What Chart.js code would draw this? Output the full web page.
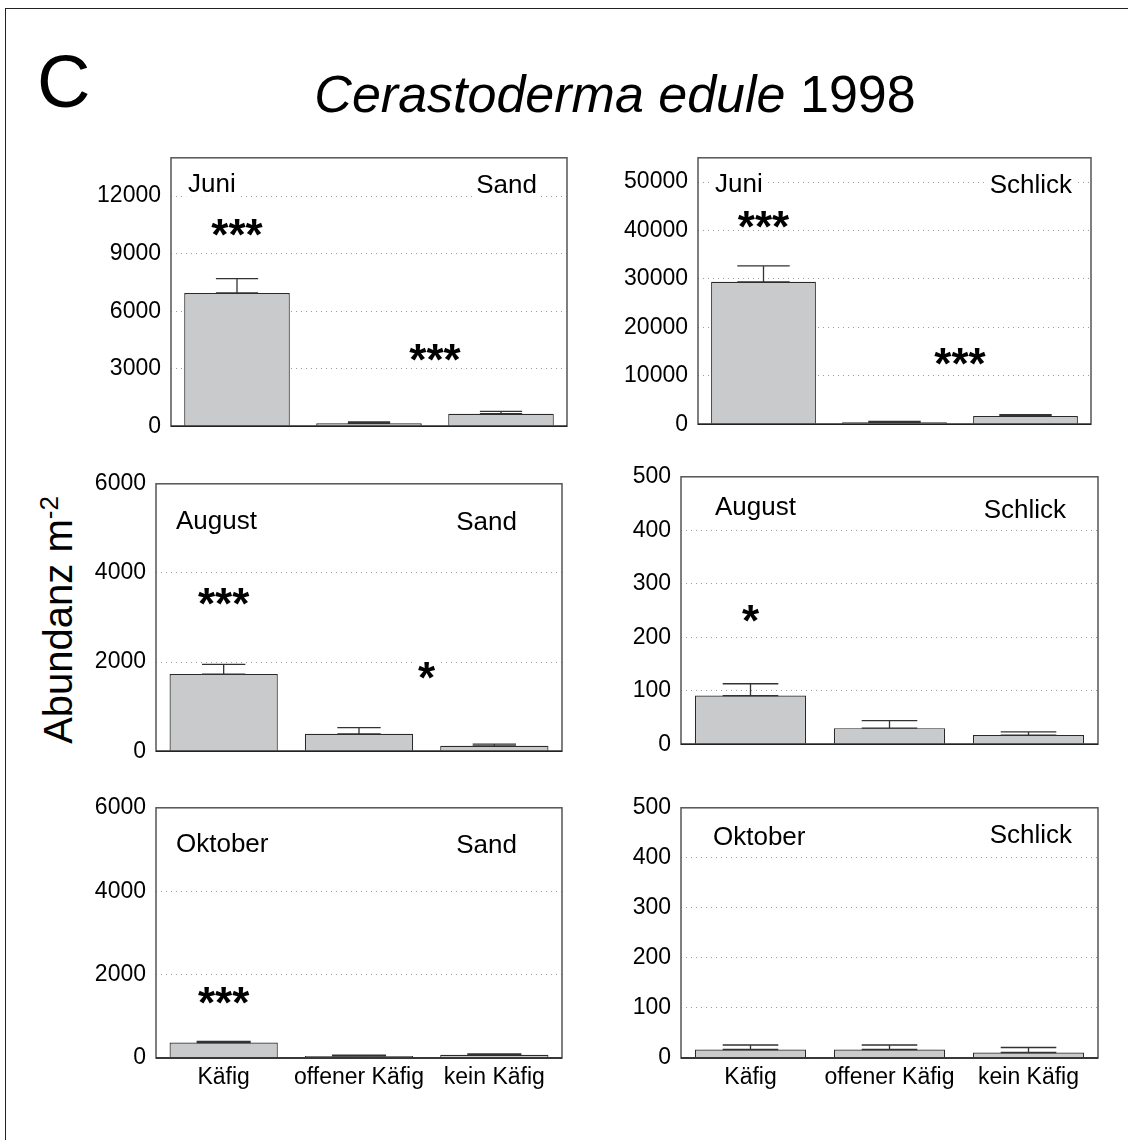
<!DOCTYPE html>
<html>
<head>
<meta charset="utf-8">
<title>Cerastoderma edule 1998</title>
<script src="https://cdn.jsdelivr.net/npm/chart.js@4.4.1/dist/chart.umd.min.js"></script>
<style>
  html, body { margin: 0; padding: 0; background: #fff; }
  #fig { position: relative; width: 1128px; height: 1140px; overflow: hidden;
         font-family: "Liberation Sans", Arial, Helvetica, sans-serif; color: #000; }
  #frame { position: absolute; left: 5px; top: 8px; width: 1300px; height: 1300px;
           border-left: 1.5px solid #222; border-top: 1.5px solid #222; }
  #letter { position: absolute; left: 37px; top: 45px; font-size: 74px; line-height: 1; }
  #title { position: absolute; left: 615px; top: 68px; font-size: 52px; line-height: 1;
           white-space: nowrap; transform: translateX(-50%); }
  #ytitle { position: absolute; left: 58px; top: 620px; font-size: 40px; line-height: 1;
            white-space: nowrap; transform: translate(-50%, -50%) rotate(-90deg); }
  #ytitle sup { font-size: 26px; vertical-align: baseline; position: relative; top: -0.55em; }
  canvas { position: absolute; }
</style>
</head>
<body>
<div id="fig">
  <div id="frame"></div>
  <div id="letter">C</div>
  <div id="title"><i>Cerastoderma edule</i> 1998</div>
  <div id="ytitle">Abundanz m<sup>-2</sup></div>
</div>
<script>
// Treatments on the x axis
const CATEGORIES = ['Käfig', 'offener Käfig', 'kein Käfig'];
const MONTHS = ['Juni', 'August', 'Oktober'];
const SITES = ['Sand', 'Schlick'];

// Mean abundance per m² and upper end of the error bar
const juniSandMean      = [6950, 150, 650];
const juniSandErr       = [7700, 220, 770];
const juniSchlickMean   = [29400, 400, 1700];
const juniSchlickErr    = [32700, 600, 1950];
const augustSandMean    = [1730, 390, 120];
const augustSandErr     = [1950, 530, 160];
const augustSchlickMean = [91, 30, 17];
const augustSchlickErr  = [113, 44, 23];
const oktoberSandMean   = [370, 50, 75];
const oktoberSandErr    = [400, 70, 100];
const oktoberSchlickMean = [17, 17, 11];
const oktoberSchlickErr  = [26, 26, 21];

// Y tick values and axis maxima
const ticksJuniSand    = [0, 3000, 6000, 9000, 12000];
const ticksJuniSchlick = [0, 10000, 20000, 30000, 40000, 50000];
const ticksSand        = [0, 2000, 4000, 6000];
const ticksSchlick     = [0, 100, 200, 300, 400, 500];
const maxJuniSand = 14000, maxJuniSchlick = 55000, maxSand = 6000, maxSchlick = 500;

// Significance stars: category position (1.5 = between two bars) and height
const sigJuniSand     = [{ at: 0, y: 10500, mark: '***' }, { at: 1.5, y: 4000, mark: '***' }];
const sigJuniSchlick  = [{ at: 0, y: 42800, mark: '***' }, { at: 1.5, y: 14700, mark: '***' }];
const sigAugustSand   = [{ at: 0, y: 3550, mark: '***' }, { at: 1.5, y: 1880, mark: '*' }];
const sigAugustSchlick = [{ at: 0, y: 250, mark: '*' }];
const sigOktoberSand  = [{ at: 0, y: 1570, mark: '***' }];
const sigOktoberSchlick = [];

// ---- layout & style ----
const FONT = '"Liberation Sans", Arial, Helvetica, sans-serif';
const YW = 120, XH = 50, PAD = 20;
const BAR_FILL = '#c9cacc', BAR_EDGE = '#2a2a2a', ERR_COLOR = '#333';

const panels = [
  { rect: { l: 171, t: 154, r: 567, b: 430 }, mean: juniSandMean, err: juniSandErr, ticks: ticksJuniSand, max: maxJuniSand,
    sig: sigJuniSand, month: MONTHS[0], site: SITES[0], mPos: [17, 25], sPos: [30, 26], cap: 0.4, xLabels: false },
  { rect: { l: 698, t: 154, r: 1091, b: 428 }, mean: juniSchlickMean, err: juniSchlickErr, ticks: ticksJuniSchlick, max: maxJuniSchlick,
    sig: sigJuniSchlick, month: MONTHS[0], site: SITES[1], mPos: [17, 25], sPos: [19, 26], cap: 0.5, xLabels: false },
  { rect: { l: 156, t: 480, r: 562, b: 755 }, mean: augustSandMean, err: augustSandErr, ticks: ticksSand, max: maxSand,
    sig: sigAugustSand, month: MONTHS[1], site: SITES[0], mPos: [20, 36], sPos: [45, 37], cap: 0.4, xLabels: false },
  { rect: { l: 681, t: 473, r: 1098, b: 748 }, mean: augustSchlickMean, err: augustSchlickErr, ticks: ticksSchlick, max: maxSchlick,
    sig: sigAugustSchlick, month: MONTHS[1], site: SITES[1], mPos: [34, 29], sPos: [32, 32], cap: 0.5, xLabels: false },
  { rect: { l: 156, t: 804, r: 562, b: 1058 }, mean: oktoberSandMean, err: oktoberSandErr, ticks: ticksSand, max: maxSand,
    sig: sigOktoberSand, month: MONTHS[2], site: SITES[0], mPos: [20, 35], sPos: [45, 36], cap: 0.5, xLabels: true },
  { rect: { l: 681, t: 804, r: 1098, b: 1058 }, mean: oktoberSchlickMean, err: oktoberSchlickErr, ticks: ticksSchlick, max: maxSchlick,
    sig: sigOktoberSchlick, month: MONTHS[2], site: SITES[1], mPos: [32, 28], sPos: [26, 26], cap: 0.5, xLabels: true }
];

function labelWithBg(ctx, text, x, yMid, align) {
  const w = ctx.measureText(text).width;
  const x0 = align === 'right' ? x - w : x;
  ctx.fillStyle = '#fff';
  ctx.fillRect(x0 - 3, yMid - 14, w + 6, 28);
  ctx.fillStyle = '#000';
  ctx.textAlign = align;
  ctx.textBaseline = 'alphabetic';
  ctx.fillText(text, x, yMid + 9.3);
}

function decorPlugin(cfg) {
  return {
    id: 'panelDecor',
    afterDatasetsDraw(chart) {
      const { ctx, chartArea: a, scales: { x, y } } = chart;
      const meta = chart.getDatasetMeta(0);
      ctx.save();
      // error bars
      ctx.strokeStyle = ERR_COLOR;
      ctx.lineWidth = 1.3;
      meta.data.forEach((bar, i) => {
        const yTop = y.getPixelForValue(cfg.err[i]);
        const half = bar.width * cfg.cap / 2;
        ctx.beginPath();
        ctx.moveTo(bar.x, bar.y); ctx.lineTo(bar.x, yTop);
        ctx.moveTo(bar.x - half, yTop); ctx.lineTo(bar.x + half, yTop);
        ctx.moveTo(bar.x - half, bar.y); ctx.lineTo(bar.x + half, bar.y);
        ctx.stroke();
      });
      // panel frame
      ctx.strokeStyle = '#555';
      ctx.lineWidth = 1.5;
      ctx.strokeRect(a.left, a.top, a.right - a.left, a.bottom - a.top);
      ctx.strokeStyle = '#222';
      ctx.beginPath();
      ctx.moveTo(a.left, a.bottom); ctx.lineTo(a.right, a.bottom);
      ctx.stroke();
      // month and site
      ctx.font = '26px ' + FONT;
      labelWithBg(ctx, cfg.month, a.left + cfg.mPos[0], a.top + cfg.mPos[1], 'left');
      labelWithBg(ctx, cfg.site, a.right - cfg.sPos[0], a.top + cfg.sPos[1], 'right');
      // significance stars
      const fs = 44;
      ctx.font = 'bold ' + fs + 'px ' + FONT;
      cfg.sig.forEach(s => {
        const px = x.getPixelForValue(s.at);
        const py = y.getPixelForValue(s.y);
        const w = ctx.measureText(s.mark).width;
        ctx.fillStyle = '#fff';
        ctx.fillRect(px - w / 2 - 3, py - 10, w + 6, 20);
        ctx.fillStyle = '#000';
        ctx.textAlign = 'center';
        ctx.textBaseline = 'alphabetic';
        ctx.fillText(s.mark, px, py + 0.58 * fs);
      });
      ctx.restore();
    }
  };
}

const fig = document.getElementById('fig');
panels.forEach(cfg => {
  const pw = cfg.rect.r - cfg.rect.l, ph = cfg.rect.b - cfg.rect.t;
  const W = pw + YW + PAD;
  const H = ph + PAD + (cfg.xLabels ? XH : PAD);
  const cv = document.createElement('canvas');
  cv.width = W; cv.height = H;
  cv.style.left = (cfg.rect.l - YW) + 'px';
  cv.style.top = (cfg.rect.t - PAD) + 'px';
  cv.style.width = W + 'px';
  cv.style.height = H + 'px';
  fig.appendChild(cv);

  const chart = new Chart(cv, {
    type: 'bar',
    data: {
      labels: CATEGORIES,
      datasets: [{
        data: cfg.mean,
        backgroundColor: BAR_FILL,
        borderColor: BAR_EDGE,
        borderWidth: 1.2,
        barPercentage: 0.8,
        categoryPercentage: 1
      }]
    },
    options: {
      responsive: false,
      animation: false,
      devicePixelRatio: 1,
      layout: { padding: { left: 0, top: PAD, right: PAD, bottom: cfg.xLabels ? 0 : PAD } },
      plugins: { legend: { display: false }, tooltip: { enabled: false } },
      scales: {
        x: {
          display: cfg.xLabels,
          grid: { display: false, drawTicks: false },
          border: { display: false },
          ticks: { font: { family: FONT, size: 23 }, color: '#000', padding: 6, maxRotation: 0, autoSkip: false },
          afterFit: s => { s.height = cfg.xLabels ? XH : 0; }
        },
        y: {
          min: 0,
          max: cfg.max,
          grid: { color: '#9a9a9a', lineWidth: 1, drawTicks: false },
          border: { display: false, dash: [1, 4] },
          ticks: { font: { family: FONT, size: 23 }, color: '#000', padding: 10, callback: v => String(v) },
          afterBuildTicks: s => { s.ticks = cfg.ticks.map(v => ({ value: v })); },
          afterFit: s => { s.width = YW; }
        }
      }
    },
    plugins: [decorPlugin(cfg)]
  });

  // nudge the layout padding so the plot area lands exactly on the panel rectangle
  for (let k = 0; k < 3; k++) {
    const a = chart.chartArea;
    const p = chart.options.layout.padding;
    const dTop = PAD - a.top;
    const dBottom = (PAD + ph) - a.bottom;
    const dLeft = YW - a.left;
    const dRight = (YW + pw) - a.right;
    if (Math.abs(dTop) + Math.abs(dBottom) + Math.abs(dLeft) + Math.abs(dRight) < 0.5) break;
    chart.options.layout.padding = {
      left: p.left + dLeft,
      top: p.top + dTop,
      right: p.right - dRight,
      bottom: p.bottom - dBottom
    };
    chart.update();
  }
});
</script>
</body>
</html>
